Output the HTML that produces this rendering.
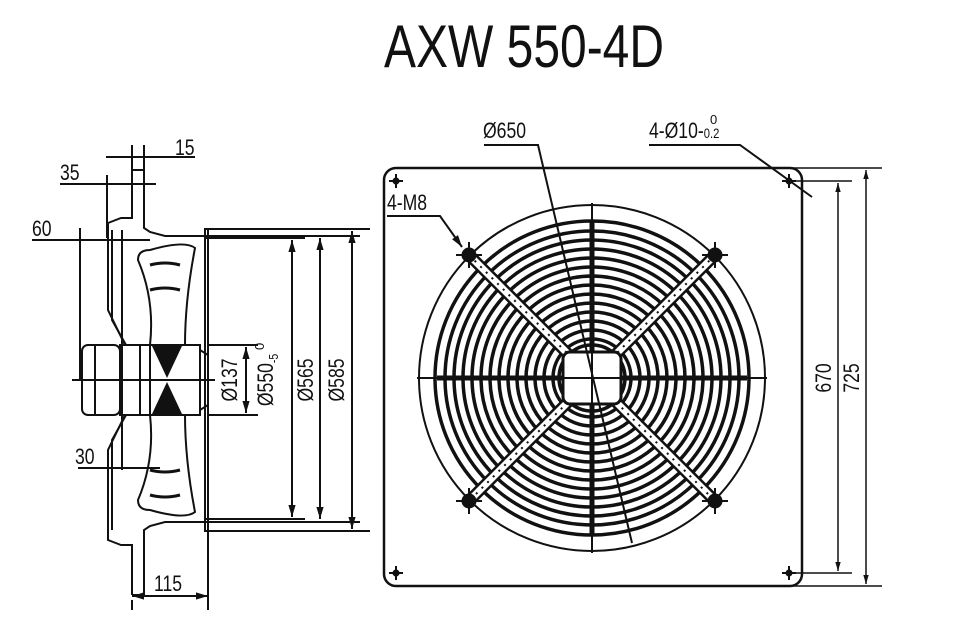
<!DOCTYPE html>
<html><head><style>
html,body{margin:0;padding:0;background:#fff;}
svg{display:block}
text{font-family:"Liberation Sans",sans-serif;fill:#111}
</style></head><body>
<svg width="959" height="628" viewBox="0 0 959 628" xmlns="http://www.w3.org/2000/svg">
<defs>
<marker id="a" viewBox="0 0 10 10" refX="10" refY="5" markerWidth="8" markerHeight="6" orient="auto-start-reverse"><path d="M0,2 L10,5 L0,8z" fill="#111"/></marker>
</defs>
<text x="524" y="67" font-size="60" text-anchor="middle" transform="translate(524 0) scale(0.8 1) translate(-524 0)">AXW 550-4D</text>

<!-- RIGHT VIEW -->
<g stroke="#111" fill="none">
<rect x="384" y="168" width="418" height="418" rx="12" stroke-width="2.5"/>
<line x1="790" y1="168" x2="882" y2="168" stroke-width="1.5"/>
<line x1="790" y1="586" x2="882" y2="586" stroke-width="1.5"/>
<line x1="795" y1="181" x2="852" y2="181" stroke-width="1.5"/>
<line x1="795" y1="573" x2="852" y2="573" stroke-width="1.5"/>
<line x1="838" y1="183" x2="838" y2="571" stroke-width="1.5" marker-start="url(#a)" marker-end="url(#a)"/>
<line x1="866" y1="170" x2="866" y2="584" stroke-width="1.5" marker-start="url(#a)" marker-end="url(#a)"/>
<g stroke-width="2">
<path d="M389 181h14M396 174v14M782 181h14M789 174v14M389 573h14M396 566v14M782 573h14M789 566v14"/>
</g>
<circle cx="396" cy="181" r="3" fill="#111"/><circle cx="789" cy="181" r="3" fill="#111"/>
<circle cx="396" cy="573" r="3" fill="#111"/><circle cx="789" cy="573" r="3" fill="#111"/>
<circle cx="592" cy="378" r="173" stroke-width="2"/>
<g stroke-width="3.5">
<circle cx="592" cy="378" r="157"/><circle cx="592" cy="378" r="147"/><circle cx="592" cy="378" r="138"/>
<circle cx="592" cy="378" r="129"/><circle cx="592" cy="378" r="120"/><circle cx="592" cy="378" r="111"/>
<circle cx="592" cy="378" r="102"/><circle cx="592" cy="378" r="93"/><circle cx="592" cy="378" r="84"/>
<circle cx="592" cy="378" r="75"/><circle cx="592" cy="378" r="66"/><circle cx="592" cy="378" r="57"/>
<circle cx="592" cy="378" r="48"/><circle cx="592" cy="378" r="39"/><circle cx="592" cy="378" r="33"/>
</g>
<line x1="417" y1="378" x2="767" y2="378" stroke-width="2"/>
<line x1="592" y1="203" x2="592" y2="553" stroke-width="2"/>
<line x1="437" y1="378" x2="747" y2="378" stroke-width="5"/>
<line x1="592" y1="220" x2="592" y2="535" stroke-width="5"/>
<g stroke-width="12" stroke="#111"><line x1="469" y1="255" x2="715" y2="501"/><line x1="715" y1="255" x2="469" y2="501"/></g>
<g stroke-width="7" stroke="#fff"><line x1="469" y1="255" x2="715" y2="501"/><line x1="715" y1="255" x2="469" y2="501"/></g>
<g stroke-width="2" stroke="#111" stroke-dasharray="2 6"><line x1="469" y1="255" x2="715" y2="501"/><line x1="715" y1="255" x2="469" y2="501"/></g>
<rect x="563" y="352" width="58" height="52" rx="7" fill="#fff" stroke-width="3"/>
<line x1="563" y1="378" x2="621" y2="378" stroke-width="2"/>
<line x1="592" y1="352" x2="592" y2="404" stroke-width="2"/>
<g stroke-width="2"><path d="M456 255h26M469 242v26M702 255h26M715 242v26M456 501h26M469 488v26M702 501h26M715 488v26"/></g>
<circle cx="469" cy="255" r="7" fill="#111"/><circle cx="715" cy="255" r="7" fill="#111"/>
<circle cx="469" cy="501" r="7" fill="#111"/><circle cx="715" cy="501" r="7" fill="#111"/>
<path d="M484 145H538L632 543" stroke-width="2"/>
<path d="M649 145H740L812 197" stroke-width="2"/>
<path d="M387 216H440L462 247" stroke-width="2" marker-end="url(#a)"/>
</g>
<text x="483" y="138" font-size="22" transform="translate(483 0) scale(0.8 1) translate(-483 0)">Ø650</text>
<text x="649" y="138" font-size="22" transform="translate(649 0) scale(0.8 1) translate(-649 0)">4-Ø10-<tspan font-size="14">0.2</tspan></text>
<text x="710" y="124" font-size="13">0</text>
<text x="387" y="210" font-size="22" transform="translate(387 0) scale(0.8 1) translate(-387 0)">4-M8</text>
<text font-size="22" transform="translate(831 378) rotate(-90) scale(0.8 1)" text-anchor="middle">670</text>
<text font-size="22" transform="translate(859 378) rotate(-90) scale(0.8 1)" text-anchor="middle">725</text>

<!-- LEFT VIEW -->
<g stroke="#111" fill="none" stroke-width="2">
<path d="M132 170V218H121L108 223V310L125 345M132 170H144V228L150 232L165 236H205"/>
<path d="M132 595V545H121L108 540V450L125 415M132 595H144V530L150 526L165 522H205"/>
<path d="M112 230L112 320L126 345M112 530V440L126 415"/>
<rect x="205" y="229" width="3" height="302"/>
<line x1="205" y1="236" x2="360" y2="236"/>
<line x1="205" y1="522" x2="360" y2="522"/>
<line x1="208" y1="229" x2="370" y2="229"/>
<line x1="208" y1="531" x2="370" y2="531"/>
<line x1="205" y1="238" x2="305" y2="238"/>
<line x1="205" y1="519" x2="305" y2="519"/>
<path d="M150 250Q185 240 195 248Q185 300 185 345H150Q155 300 138 260Q138 250 150 250Z"/>
<path d="M150 510Q185 520 195 512Q185 460 185 415H150Q155 460 138 500Q138 510 150 510Z"/>
<path d="M150 265q15 -4 30 0M150 290q15 -4 30 0M150 470q15 4 30 0M150 495q15 4 30 0" stroke-width="3"/>
<rect x="82" y="345" width="38" height="70" rx="6"/>
<line x1="95" y1="345" x2="95" y2="415"/>
<rect x="120" y="345" width="80" height="70"/>
<line x1="140" y1="345" x2="140" y2="415"/><line x1="150" y1="345" x2="150" y2="415"/>
<path d="M200 350L208 355V405L200 410"/>
<line x1="72" y1="380" x2="215" y2="380"/>
<line x1="208" y1="345" x2="258" y2="345"/><line x1="208" y1="415" x2="258" y2="415"/>
<line x1="246" y1="347" x2="246" y2="413" marker-start="url(#a)" marker-end="url(#a)"/>
<line x1="292" y1="240" x2="292" y2="517" marker-start="url(#a)" marker-end="url(#a)"/>
<line x1="320" y1="238" x2="320" y2="519" marker-start="url(#a)" marker-end="url(#a)"/>
<line x1="352" y1="231" x2="352" y2="529" marker-start="url(#a)" marker-end="url(#a)"/>
<line x1="132" y1="145" x2="132" y2="172"/><line x1="144" y1="145" x2="144" y2="172"/>
<line x1="106" y1="157" x2="195" y2="157"/>
<line x1="107" y1="175" x2="107" y2="238"/>
<line x1="60" y1="184" x2="156" y2="184"/>
<line x1="80" y1="228" x2="80" y2="380"/>
<line x1="122" y1="230" x2="122" y2="470"/>
<line x1="32" y1="240" x2="150" y2="240"/>
<line x1="78" y1="468" x2="160" y2="468"/>
<line x1="132" y1="600" x2="132" y2="610"/><line x1="208" y1="531" x2="208" y2="610"/>
<line x1="132" y1="596" x2="208" y2="596" marker-start="url(#a)" marker-end="url(#a)"/>
</g>
<path d="M152 346L182 346L167 378Z" fill="#111"/><path d="M152 414L182 414L167 382Z" fill="#111"/>
<g font-size="22">
<text x="175" y="155" transform="translate(175 0) scale(0.8 1) translate(-175 0)">15</text>
<text x="60" y="180" transform="translate(60 0) scale(0.8 1) translate(-60 0)">35</text>
<text x="32" y="236" transform="translate(32 0) scale(0.8 1) translate(-32 0)">60</text>
<text x="75" y="464" transform="translate(75 0) scale(0.8 1) translate(-75 0)">30</text>
<text x="154" y="591" transform="translate(154 0) scale(0.8 1) translate(-154 0)">115</text>
<text transform="translate(237 380) rotate(-90) scale(0.8 1)" text-anchor="middle">Ø137</text>
<text transform="translate(273 380) rotate(-90) scale(0.8 1)" text-anchor="middle">Ø550<tspan font-size="13" dy="5">-5</tspan></text>
<text transform="translate(313 380) rotate(-90) scale(0.8 1)" text-anchor="middle">Ø565</text>
<text transform="translate(344 380) rotate(-90) scale(0.8 1)" text-anchor="middle">Ø585</text>
</g>
<text font-size="13" transform="translate(264 350) rotate(-90)">0</text>
</svg>
</body></html>
